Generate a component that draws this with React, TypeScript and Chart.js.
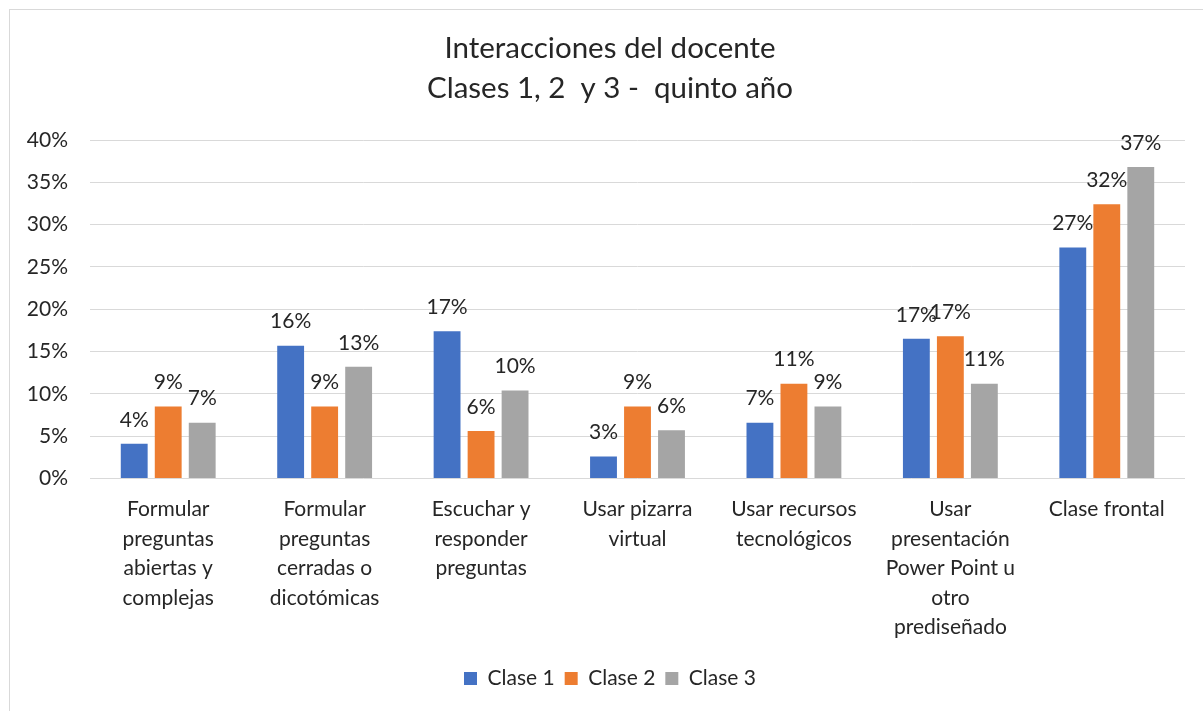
import React, { useEffect, useRef } from "react";
import { Chart, registerables } from "chart.js";

Chart.register(...registerables);

const categories: string[][] = [
  ["Formular", "preguntas", "abiertas y", "complejas"],
  ["Formular", "preguntas", "cerradas o", "dicotómicas"],
  ["Escuchar y", "responder", "preguntas"],
  ["Usar pizarra", "virtual"],
  ["Usar recursos", "tecnológicos"],
  ["Usar", "presentación", "Power Point u", "otro", "prediseñado"],
  ["Clase frontal"],
];

const seriesNames = ["Clase 1", "Clase 2", "Clase 3"];
const clase1 = [0.041, 0.157, 0.174, 0.026, 0.066, 0.165, 0.273];
const clase2 = [0.085, 0.085, 0.056, 0.085, 0.112, 0.168, 0.324];
const clase3 = [0.066, 0.132, 0.104, 0.057, 0.085, 0.112, 0.368];
const seriesColors = ["#4472C4", "#ED7D31", "#A5A5A5"];

const titleLines = ["Interacciones del docente", "Clases 1, 2  y 3 -  quinto año"];
const yMin = 0;
const yMax = 0.4;
const yStep = 0.05;

const FONT = "Lato, 'Liberation Sans', sans-serif";
const TEXT = "#262626";

const frame = {
  id: "frame",
  afterLayout(chart: any) {
    if (chart.legend) {
      chart.legend.left += 13;
      chart.legend.right += 13;
    }
  },
  beforeDraw(chart: any) {
    const { ctx, width, height } = chart;
    ctx.save();
    ctx.fillStyle = "#ffffff";
    ctx.fillRect(0, 0, width, height);
    ctx.strokeStyle = "#d9d9d9";
    ctx.lineWidth = 1;
    ctx.strokeRect(9.5, 9.5, width + 20, height + 20);
    ctx.fillStyle = TEXT;
    ctx.font = `29.5px ${FONT}`;
    ctx.textAlign = "center";
    ctx.textBaseline = "middle";
    titleLines.forEach((t, i) => ctx.fillText(t, 610, 48 + i * 40));
    ctx.restore();
  },
};

const valueLabels = {
  id: "valueLabels",
  afterDatasetsDraw(chart: any) {
    const { ctx } = chart;
    ctx.save();
    ctx.font = `21px ${FONT}`;
    ctx.fillStyle = TEXT;
    ctx.textAlign = "center";
    ctx.textBaseline = "middle";
    chart.data.datasets.forEach((ds: any, i: number) => {
      const meta = chart.getDatasetMeta(i);
      meta.data.forEach((el: any, j: number) => {
        const v = ds.data[j] as number;
        ctx.fillText(Math.round(v * 100) + "%", el.x, el.y - 24);
      });
    });
    ctx.restore();
  },
};

export default function App() {
  const ref = useRef<HTMLCanvasElement | null>(null);

  useEffect(() => {
    document.body.style.margin = "0";
    const canvas = ref.current!;
    const chart = new Chart(canvas, {
      type: "bar",
      data: {
        labels: categories,
        datasets: [clase1, clase2, clase3].map((d, i) => ({
          label: seriesNames[i],
          data: d,
          backgroundColor: seriesColors[i],
          borderWidth: 0,
          categoryPercentage: 0.652,
          barPercentage: 0.79,
        })),
      },
      options: {
        responsive: false,
        animation: false,
        devicePixelRatio: 1,
        layout: { padding: { left: 9, right: 18, top: 140, bottom: 12 } },
        plugins: {
          title: { display: false },
          legend: {
            position: "bottom",
            labels: {
              color: TEXT,
              font: { family: FONT, size: 21 },
              boxWidth: 13,
              boxHeight: 13,
              padding: 10,
            },
          },
          tooltip: { enabled: false },
        },
        scales: {
          x: {
            grid: { display: false, drawTicks: false },
            border: { display: false },
            ticks: {
              color: TEXT,
              font: { family: FONT, size: 21, lineHeight: 29.5 / 21 },
              padding: 16,
              maxRotation: 0,
              autoSkip: false,
            },
          },
          y: {
            min: yMin,
            max: yMax,
            grid: { color: "#d9d9d9", lineWidth: 1, drawTicks: false },
            border: { display: false },
            ticks: {
              stepSize: yStep,
              color: TEXT,
              font: { family: FONT, size: 21 },
              padding: 22,
              callback: (v: any) => Math.round(Number(v) * 100) + "%",
            },
            afterFit: (scale: any) => {
              scale.width = 81;
            },
          },
        },
      },
      plugins: [frame, valueLabels],
    });
    return () => chart.destroy();
  }, []);

  return (
    <div style={{ width: 1203, height: 711 }}>
      <canvas ref={ref} width={1203} height={711} style={{ display: "block" }} />
    </div>
  );
}
